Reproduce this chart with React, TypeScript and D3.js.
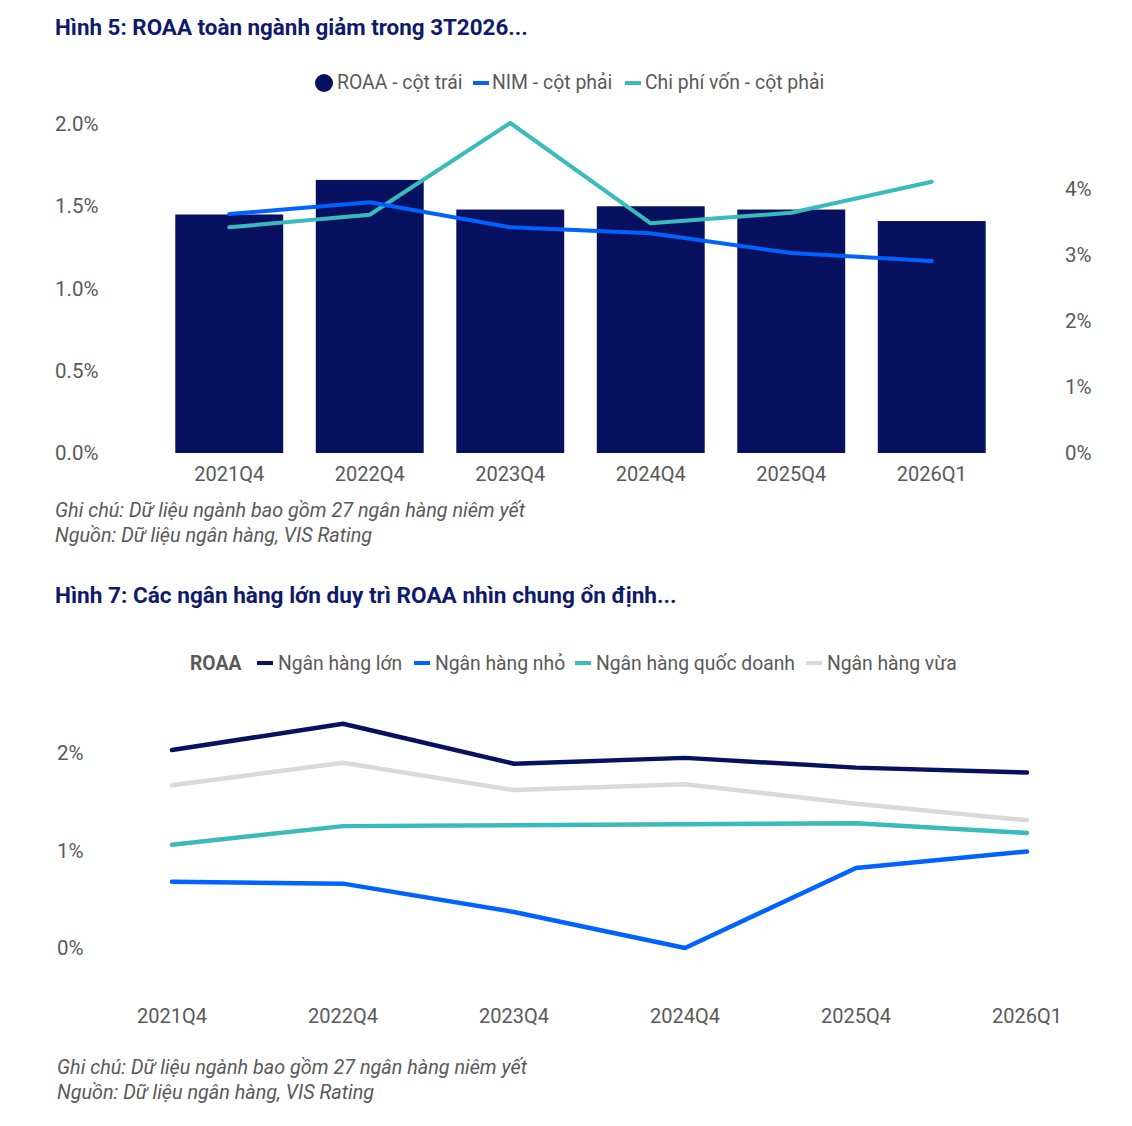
import React from "react";
import * as d3 from "d3";

const periods = ["2021Q4", "2022Q4", "2023Q4", "2024Q4", "2025Q4", "2026Q1"];
const roaa = [1.45, 1.66, 1.48, 1.5, 1.48, 1.41];
const nim = [3.62, 3.8, 3.42, 3.33, 3.03, 2.91];
const costOfFunds = [3.42, 3.61, 5.0, 3.48, 3.64, 4.11];
const leftTicks = [0, 0.5, 1.0, 1.5, 2.0];
const rightTicks = [0, 1, 2, 3, 4];

const bigBanks = [2.03, 2.3, 1.89, 1.95, 1.85, 1.8];
const smallBanks = [0.68, 0.66, 0.37, 0.0, 0.82, 0.99];
const stateBanks = [1.06, 1.25, 1.26, 1.27, 1.28, 1.18];
const midBanks = [1.67, 1.9, 1.62, 1.68, 1.48, 1.31];
const ticks2 = [0, 1, 2];

const NAVY = "#07115f";
const BLUE = "#0062ff";
const TEAL = "#3bbabb";
const LGRAY = "#d9d9d9";
const TXT = "#595959";
const TITLE = "#0f1a6c";
const FONT = "Roboto, 'Noto Sans', sans-serif";

export default function App() {
  // Chart 1
  const x1 = d3.scaleBand<string>().domain(periods).range([159, 1002]).paddingInner(0.232).paddingOuter(0.116);
  const yL = d3.scaleLinear().domain([0, 2]).range([453, 124]);
  const yR = d3.scaleLinear().domain([0, 5]).range([453, 123]);
  const cx1 = (p: string) => (x1(p) as number) + x1.bandwidth() / 2;
  const lineR = d3
    .line<number>()
    .x((_, i) => cx1(periods[i]))
    .y((v) => yR(v));

  // Chart 2
  const x2 = d3.scalePoint<string>().domain(periods).range([172, 1027]);
  const y2 = d3.scaleLinear().domain([0, 2]).range([948, 753]);
  const line2 = d3
    .line<number>()
    .x((_, i) => x2(periods[i]) as number)
    .y((v) => y2(v));

  const series2 = [
    { name: "Ngân hàng lớn", data: bigBanks, color: NAVY },
    { name: "Ngân hàng nhỏ", data: smallBanks, color: BLUE },
    { name: "Ngân hàng quốc doanh", data: stateBanks, color: TEAL },
    { name: "Ngân hàng vừa", data: midBanks, color: LGRAY },
  ];
  const legend2X = [257, 414, 575, 806];
  const drawOrder2 = [3, 2, 1, 0];

  return (
    <svg
      width={1132}
      height={1126}
      style={{ position: "absolute", left: 0, top: 0, background: "#fff" }}
      fontFamily={FONT}
    >
      <rect width={1132} height={1126} fill="#fff" />
      {/* Chart 1 title */}
      <text x={55} y={35} fontSize={22.4} fontWeight={700} fill={TITLE}>
        Hình 5: ROAA toàn ngành giảm trong 3T2026...
      </text>

      {/* Legend 1 */}
      <g fontSize={19.4} fill={TXT} dominantBaseline="central">
        <circle cx={324} cy={83} r={9} fill={NAVY} />
        <text x={337} y={82}>ROAA - cột trái</text>
        <rect x={473} y={81} width={16} height={4} fill={BLUE} />
        <text x={492} y={82}>NIM - cột phải</text>
        <rect x={625} y={81} width={16} height={4} fill={TEAL} />
        <text x={645} y={82}>Chi phí vốn - cột phải</text>
      </g>

      {/* Axes 1 */}
      <g fontSize={20.5} fill={TXT}>
        {leftTicks.map((t) => (
          <text key={t} x={55} y={yL(t)} dominantBaseline="central">
            {t.toFixed(1)}%
          </text>
        ))}
        {rightTicks.map((t) => (
          <text key={t} x={1065} y={yR(t)} dominantBaseline="central">
            {t}%
          </text>
        ))}
      </g>
      <g fontSize={20} fill={TXT}>
        {periods.map((p) => (
          <text key={p} x={cx1(p)} y={474} textAnchor="middle" dominantBaseline="central">
            {p}
          </text>
        ))}
      </g>

      {/* Bars */}
      {periods.map((p, i) => (
        <rect
          key={p}
          x={x1(p)}
          y={yL(roaa[i])}
          width={x1.bandwidth()}
          height={yL(0) - yL(roaa[i])}
          fill={NAVY}
        />
      ))}

      <path d={lineR(costOfFunds) ?? ""} fill="none" stroke={TEAL} strokeWidth={4} strokeLinecap="round" strokeLinejoin="round" />
      <path d={lineR(nim) ?? ""} fill="none" stroke={BLUE} strokeWidth={4} strokeLinecap="round" strokeLinejoin="round" />

      {/* Notes 1 */}
      <g fontSize={19.8} fill={TXT} fontStyle="italic">
        <text x={55} y={517}>Ghi chú: Dữ liệu ngành bao gồm 27 ngân hàng niêm yết</text>
        <text x={55} y={542}>Nguồn: Dữ liệu ngân hàng, VIS Rating</text>
      </g>

      {/* Chart 2 title */}
      <text x={55} y={603} fontSize={22.6} fontWeight={700} fill={TITLE}>
        Hình 7: Các ngân hàng lớn duy trì ROAA nhìn chung ổn định...
      </text>

      {/* Legend 2 */}
      <g fontSize={19.3} fill={TXT} dominantBaseline="central">
        <text x={190} y={663} fontWeight={700}>ROAA</text>
        {series2.map((s, i) => (
          <g key={s.name}>
            <rect x={legend2X[i]} y={661} width={16} height={4} fill={s.color} />
            <text x={legend2X[i] + 21} y={663}>{s.name}</text>
          </g>
        ))}
      </g>

      {/* Axis 2 */}
      <g fontSize={20.5} fill={TXT}>
        {ticks2.map((t) => (
          <text key={t} x={57} y={y2(t)} dominantBaseline="central">
            {t}%
          </text>
        ))}
      </g>
      <g fontSize={20} fill={TXT}>
        {periods.map((p) => (
          <text key={p} x={x2(p)} y={1016} textAnchor="middle" dominantBaseline="central">
            {p}
          </text>
        ))}
      </g>

      {drawOrder2.map((k) => (
        <path
          key={series2[k].name}
          d={line2(series2[k].data) ?? ""}
          fill="none"
          stroke={series2[k].color}
          strokeWidth={4.5}
          strokeLinecap="round"
          strokeLinejoin="round"
        />
      ))}

      {/* Notes 2 */}
      <g fontSize={19.8} fill={TXT} fontStyle="italic">
        <text x={57} y={1074}>Ghi chú: Dữ liệu ngành bao gồm 27 ngân hàng niêm yết</text>
        <text x={57} y={1099}>Nguồn: Dữ liệu ngân hàng, VIS Rating</text>
      </g>
    </svg>
  );
}
